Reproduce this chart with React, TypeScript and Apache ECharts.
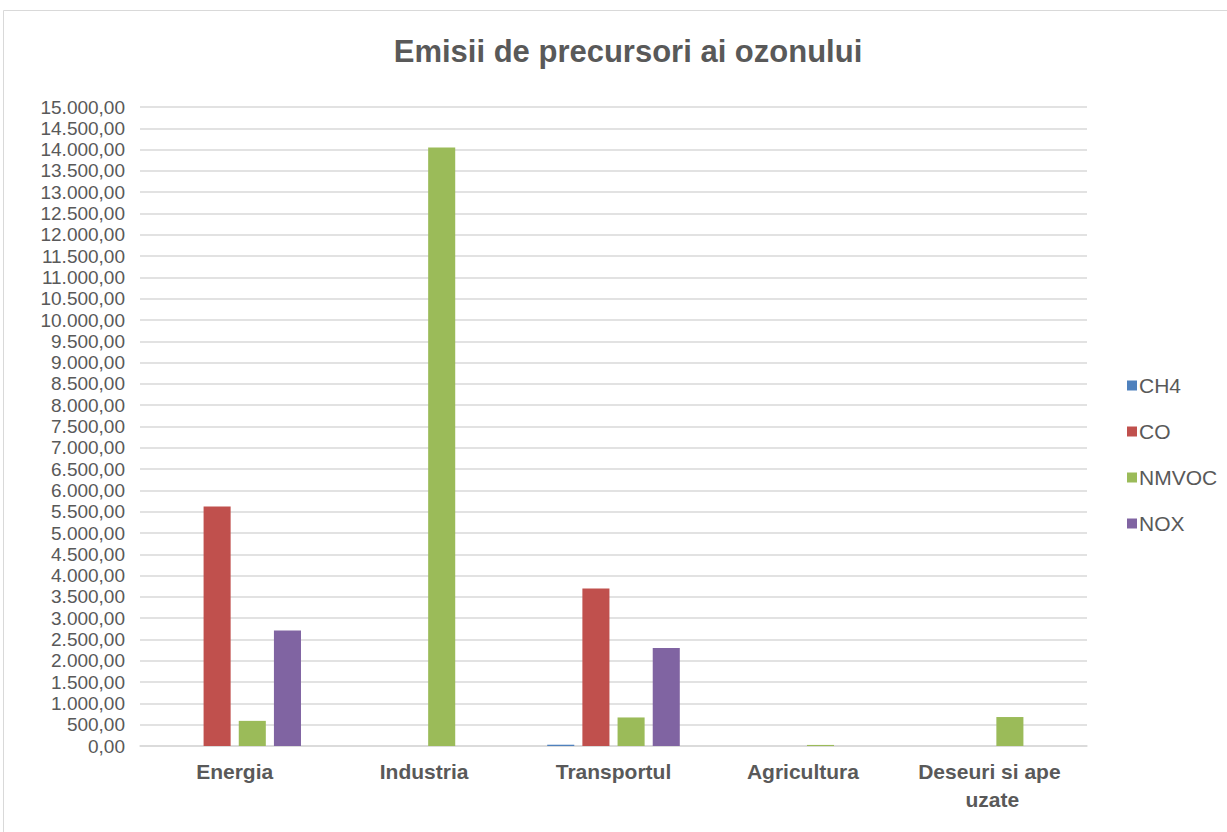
import React, { useEffect, useRef } from "react";
import * as echarts from "echarts";

const categories = ["Energia", "Industria", "Transportul", "Agricultura", "Deseuri si ape uzate"];
const seriesNames = ["CH4", "CO", "NMVOC", "NOX"];
const ch4Values = [0, 0, 30, 0, 0];
const coValues = [5620, 0, 3700, 0, 0];
const nmvocValues = [590, 14050, 670, 25, 680];
const noxValues = [2710, 0, 2300, 0, 0];
const colors = ["#4f81bd", "#c0504d", "#9bbb59", "#8064a2"];

const FONT = "'Liberation Sans', Arial, sans-serif";

const formatRo = (v: number) => {
  const [intPart, dec] = v.toFixed(2).split(".");
  return intPart.replace(/\B(?=(\d{3})+(?!\d))/g, ".") + "," + dec;
};

export default function App() {
  const ref = useRef<HTMLDivElement>(null);
  useEffect(() => {
    if (!ref.current) return;
    const chart = echarts.init(ref.current, null, { renderer: "svg" });
    const values = [ch4Values, coValues, nmvocValues, noxValues];
    chart.setOption({
      animation: false,
      backgroundColor: "#ffffff",
      textStyle: { fontFamily: FONT },
      title: {
        text: "Emisii de precursori ai ozonului",
        left: 623,
        top: 31,
        textAlign: "center",
        textStyle: { fontSize: 31, fontWeight: "bold", color: "#595959", fontFamily: FONT },
      },
      graphic: [
        {
          type: "rect",
          shape: { x: 3.5, y: 10.5, width: 1240, height: 840 },
          style: { fill: "none", stroke: "#d9d9d9", lineWidth: 1 },
          silent: true,
        },
      ],
      legend: {
        orient: "vertical",
        left: 1122,
        top: 370,
        itemWidth: 10,
        itemHeight: 10,
        itemGap: 25,
        icon: "rect",
        data: seriesNames,
        textStyle: { fontSize: 21, color: "#595959", padding: [0, 0, 0, -3] },
      },
      grid: { left: 140, right: 140, top: 107, bottom: 86, containLabel: false },
      xAxis: {
        type: "category",
        data: categories,
        axisTick: { show: false },
        axisLine: { lineStyle: { color: "#d9d9d9", width: 1.5 } },
        axisLabel: {
          interval: 0,
          color: "#595959",
          fontSize: 21,
          fontWeight: "bold",
          margin: 11,
          width: 170,
          overflow: "break",
          lineHeight: 28,
        },
      },
      yAxis: {
        type: "value",
        min: 0,
        max: 15000,
        interval: 500,
        axisLine: { show: false },
        axisTick: { show: false },
        splitLine: { lineStyle: { color: "#d9d9d9", width: 1.5 } },
        axisLabel: {
          color: "#595959",
          fontSize: 19,
          margin: 15,
          formatter: (v: number) => formatRo(v),
        },
      },
      series: seriesNames.map((name, i) => ({
        name,
        type: "bar",
        data: values[i],
        barGap: "30%",
        barCategoryGap: "30%",
        itemStyle: { color: colors[i] },
      })),
    });
    return () => chart.dispose();
  }, []);
  return (
    <div
      ref={ref}
      style={{ position: "absolute", left: 0, top: 0, width: 1227, height: 832 }}
    />
  );
}
